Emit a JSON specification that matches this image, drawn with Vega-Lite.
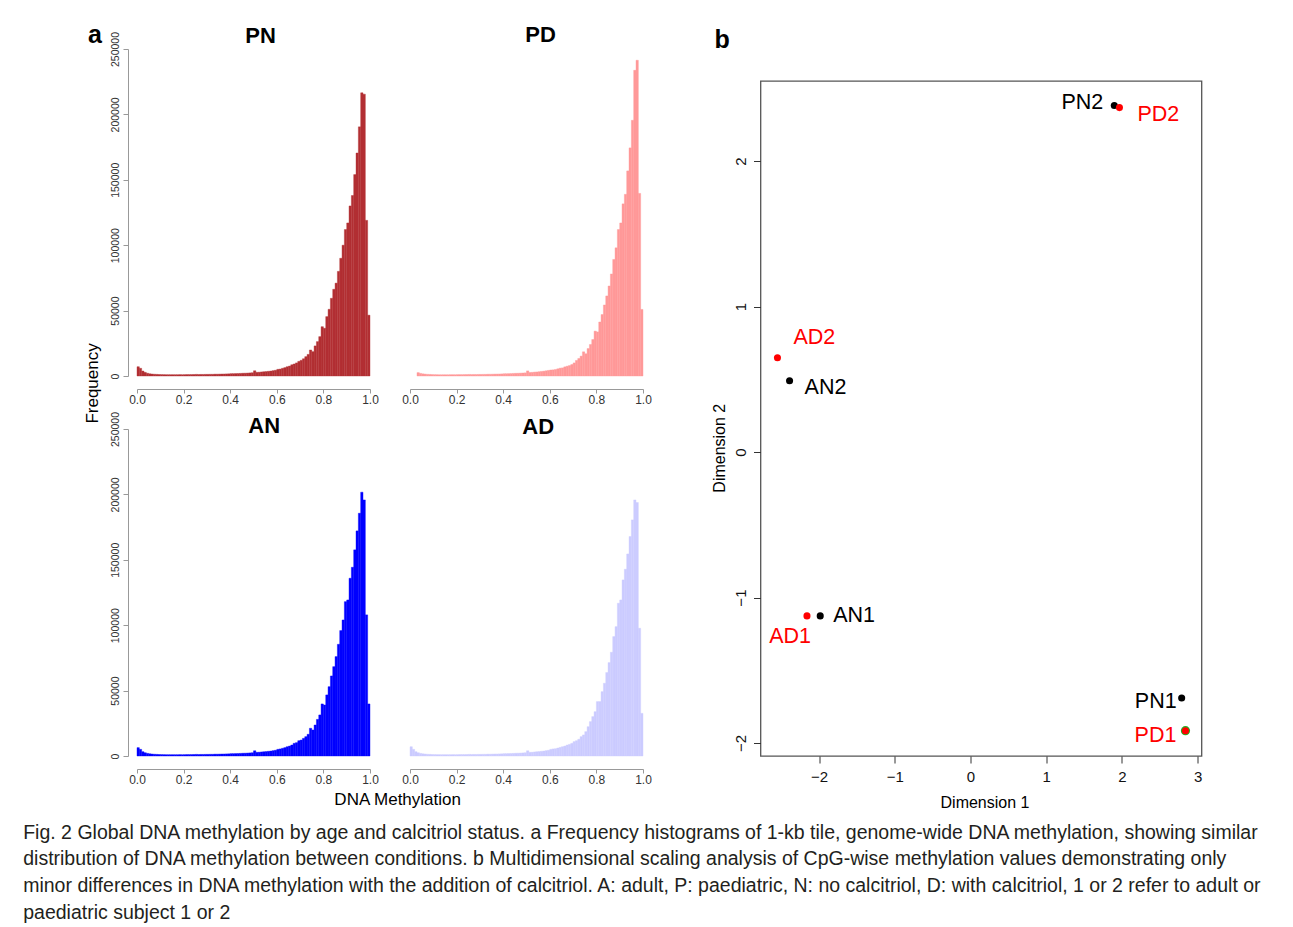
{
  "$schema": "https://vega.github.io/schema/vega-lite/v6.json",
  "background": "white",
  "padding": {"left": 23, "top": 23, "right": 5, "bottom": 5},
  "config": {
    "font": "Liberation Sans",
    "view": {"stroke": null},
    "axis": {"grid": false},
    "title": {"color": "#000000"}
  },
  "datasets": {
    "PN": [
      {"lo":0.00,"hi":0.01,"n":7100},{"lo":0.01,"hi":0.02,"n":5900},{"lo":0.02,"hi":0.03,"n":3800},{"lo":0.03,"hi":0.04,"n":2800},{"lo":0.04,"hi":0.05,"n":2100},
      {"lo":0.05,"hi":0.06,"n":1700},{"lo":0.06,"hi":0.07,"n":1500},{"lo":0.07,"hi":0.08,"n":1350},{"lo":0.08,"hi":0.09,"n":1250},{"lo":0.09,"hi":0.10,"n":1150},
      {"lo":0.10,"hi":0.11,"n":1100},{"lo":0.11,"hi":0.12,"n":1050},{"lo":0.12,"hi":0.13,"n":1000},{"lo":0.13,"hi":0.14,"n":1000},{"lo":0.14,"hi":0.15,"n":1000},
      {"lo":0.15,"hi":0.16,"n":1000},{"lo":0.16,"hi":0.17,"n":1000},{"lo":0.17,"hi":0.18,"n":1000},{"lo":0.18,"hi":0.19,"n":1050},{"lo":0.19,"hi":0.20,"n":1050},
      {"lo":0.20,"hi":0.21,"n":1050},{"lo":0.21,"hi":0.22,"n":1100},{"lo":0.22,"hi":0.23,"n":1100},{"lo":0.23,"hi":0.24,"n":1100},{"lo":0.24,"hi":0.25,"n":1150},
      {"lo":0.25,"hi":0.26,"n":1250},{"lo":0.26,"hi":0.27,"n":1150},{"lo":0.27,"hi":0.28,"n":1200},{"lo":0.28,"hi":0.29,"n":1200},{"lo":0.29,"hi":0.30,"n":1250},
      {"lo":0.30,"hi":0.31,"n":1250},{"lo":0.31,"hi":0.32,"n":1300},{"lo":0.32,"hi":0.33,"n":1300},{"lo":0.33,"hi":0.34,"n":1400},{"lo":0.34,"hi":0.35,"n":1400},
      {"lo":0.35,"hi":0.36,"n":1450},{"lo":0.36,"hi":0.37,"n":1500},{"lo":0.37,"hi":0.38,"n":1550},{"lo":0.38,"hi":0.39,"n":1600},{"lo":0.39,"hi":0.40,"n":1650},
      {"lo":0.40,"hi":0.41,"n":1800},{"lo":0.41,"hi":0.42,"n":1800},{"lo":0.42,"hi":0.43,"n":1850},{"lo":0.43,"hi":0.44,"n":1900},{"lo":0.44,"hi":0.45,"n":2000},
      {"lo":0.45,"hi":0.46,"n":2100},{"lo":0.46,"hi":0.47,"n":2150},{"lo":0.47,"hi":0.48,"n":2250},{"lo":0.48,"hi":0.49,"n":2350},{"lo":0.49,"hi":0.50,"n":2500},
      {"lo":0.50,"hi":0.51,"n":4000},{"lo":0.51,"hi":0.52,"n":2800},{"lo":0.52,"hi":0.53,"n":2900},{"lo":0.53,"hi":0.54,"n":3100},{"lo":0.54,"hi":0.55,"n":3250},
      {"lo":0.55,"hi":0.56,"n":3400},{"lo":0.56,"hi":0.57,"n":3600},{"lo":0.57,"hi":0.58,"n":3800},{"lo":0.58,"hi":0.59,"n":4100},{"lo":0.59,"hi":0.60,"n":4400},
      {"lo":0.60,"hi":0.61,"n":5100},{"lo":0.61,"hi":0.62,"n":5300},{"lo":0.62,"hi":0.63,"n":5900},{"lo":0.63,"hi":0.64,"n":6400},{"lo":0.64,"hi":0.65,"n":7100},
      {"lo":0.65,"hi":0.66,"n":7600},{"lo":0.66,"hi":0.67,"n":8600},{"lo":0.67,"hi":0.68,"n":9200},{"lo":0.68,"hi":0.69,"n":10000},{"lo":0.69,"hi":0.70,"n":11200},
      {"lo":0.70,"hi":0.71,"n":12000},{"lo":0.71,"hi":0.72,"n":13200},{"lo":0.72,"hi":0.73,"n":14800},{"lo":0.73,"hi":0.74,"n":16500},{"lo":0.74,"hi":0.75,"n":19900},
      {"lo":0.75,"hi":0.76,"n":18600},{"lo":0.76,"hi":0.77,"n":23000},{"lo":0.77,"hi":0.78,"n":26300},{"lo":0.78,"hi":0.79,"n":30100},{"lo":0.79,"hi":0.80,"n":37700},
      {"lo":0.80,"hi":0.81,"n":36500},{"lo":0.81,"hi":0.82,"n":45400},{"lo":0.82,"hi":0.83,"n":51000},{"lo":0.83,"hi":0.84,"n":59400},{"lo":0.84,"hi":0.85,"n":66300},
      {"lo":0.85,"hi":0.86,"n":71000},{"lo":0.86,"hi":0.87,"n":80000},{"lo":0.87,"hi":0.88,"n":90000},{"lo":0.88,"hi":0.89,"n":100000},{"lo":0.89,"hi":0.90,"n":112000},
      {"lo":0.90,"hi":0.91,"n":117000},{"lo":0.91,"hi":0.92,"n":130000},{"lo":0.92,"hi":0.93,"n":138000},{"lo":0.93,"hi":0.94,"n":154000},{"lo":0.94,"hi":0.95,"n":170500},
      {"lo":0.95,"hi":0.96,"n":190500},{"lo":0.96,"hi":0.97,"n":216500},{"lo":0.97,"hi":0.98,"n":215500},{"lo":0.98,"hi":0.99,"n":119000},{"lo":0.99,"hi":1.00,"n":46500}
    ],
    "PD": [
      {"lo":0.03,"hi":0.04,"n":2600},{"lo":0.04,"hi":0.05,"n":2000},
      {"lo":0.05,"hi":0.06,"n":1650},{"lo":0.06,"hi":0.07,"n":1450},{"lo":0.07,"hi":0.08,"n":1300},{"lo":0.08,"hi":0.09,"n":1200},{"lo":0.09,"hi":0.10,"n":1100},
      {"lo":0.10,"hi":0.11,"n":1050},{"lo":0.11,"hi":0.12,"n":1000},{"lo":0.12,"hi":0.13,"n":950},{"lo":0.13,"hi":0.14,"n":950},{"lo":0.14,"hi":0.15,"n":950},
      {"lo":0.15,"hi":0.16,"n":950},{"lo":0.16,"hi":0.17,"n":950},{"lo":0.17,"hi":0.18,"n":1000},{"lo":0.18,"hi":0.19,"n":1000},{"lo":0.19,"hi":0.20,"n":1000},
      {"lo":0.20,"hi":0.21,"n":1050},{"lo":0.21,"hi":0.22,"n":1050},{"lo":0.22,"hi":0.23,"n":1050},{"lo":0.23,"hi":0.24,"n":1100},{"lo":0.24,"hi":0.25,"n":1100},
      {"lo":0.25,"hi":0.26,"n":1200},{"lo":0.26,"hi":0.27,"n":1100},{"lo":0.27,"hi":0.28,"n":1150},{"lo":0.28,"hi":0.29,"n":1150},{"lo":0.29,"hi":0.30,"n":1200},
      {"lo":0.30,"hi":0.31,"n":1200},{"lo":0.31,"hi":0.32,"n":1250},{"lo":0.32,"hi":0.33,"n":1250},{"lo":0.33,"hi":0.34,"n":1350},{"lo":0.34,"hi":0.35,"n":1350},
      {"lo":0.35,"hi":0.36,"n":1400},{"lo":0.36,"hi":0.37,"n":1450},{"lo":0.37,"hi":0.38,"n":1500},{"lo":0.38,"hi":0.39,"n":1550},{"lo":0.39,"hi":0.40,"n":1600},
      {"lo":0.40,"hi":0.41,"n":1750},{"lo":0.41,"hi":0.42,"n":1750},{"lo":0.42,"hi":0.43,"n":1800},{"lo":0.43,"hi":0.44,"n":1850},{"lo":0.44,"hi":0.45,"n":1950},
      {"lo":0.45,"hi":0.46,"n":2050},{"lo":0.46,"hi":0.47,"n":2100},{"lo":0.47,"hi":0.48,"n":2200},{"lo":0.48,"hi":0.49,"n":2300},{"lo":0.49,"hi":0.50,"n":2400},
      {"lo":0.50,"hi":0.51,"n":3900},{"lo":0.51,"hi":0.52,"n":2700},{"lo":0.52,"hi":0.53,"n":2800},{"lo":0.53,"hi":0.54,"n":3000},{"lo":0.54,"hi":0.55,"n":3150},
      {"lo":0.55,"hi":0.56,"n":3300},{"lo":0.56,"hi":0.57,"n":3500},{"lo":0.57,"hi":0.58,"n":3700},{"lo":0.58,"hi":0.59,"n":4000},{"lo":0.59,"hi":0.60,"n":4300},
      {"lo":0.60,"hi":0.61,"n":4600},{"lo":0.61,"hi":0.62,"n":4700},{"lo":0.62,"hi":0.63,"n":5000},{"lo":0.63,"hi":0.64,"n":5500},{"lo":0.64,"hi":0.65,"n":6000},
      {"lo":0.65,"hi":0.66,"n":6200},{"lo":0.66,"hi":0.67,"n":7000},{"lo":0.67,"hi":0.68,"n":7500},{"lo":0.68,"hi":0.69,"n":8000},{"lo":0.69,"hi":0.70,"n":8800},
      {"lo":0.70,"hi":0.71,"n":10000},{"lo":0.71,"hi":0.72,"n":11900},{"lo":0.72,"hi":0.73,"n":13400},{"lo":0.73,"hi":0.74,"n":15200},{"lo":0.74,"hi":0.75,"n":18500},
      {"lo":0.75,"hi":0.76,"n":17000},{"lo":0.76,"hi":0.77,"n":21000},{"lo":0.77,"hi":0.78,"n":24100},{"lo":0.78,"hi":0.79,"n":27900},{"lo":0.79,"hi":0.80,"n":34300},
      {"lo":0.80,"hi":0.81,"n":33700},{"lo":0.81,"hi":0.82,"n":41300},{"lo":0.82,"hi":0.83,"n":47000},{"lo":0.83,"hi":0.84,"n":54300},{"lo":0.84,"hi":0.85,"n":61200},
      {"lo":0.85,"hi":0.86,"n":68800},{"lo":0.86,"hi":0.87,"n":78000},{"lo":0.87,"hi":0.88,"n":89100},{"lo":0.88,"hi":0.89,"n":98000},{"lo":0.89,"hi":0.90,"n":112000},
      {"lo":0.90,"hi":0.91,"n":117000},{"lo":0.91,"hi":0.92,"n":131600},{"lo":0.92,"hi":0.93,"n":138900},{"lo":0.93,"hi":0.94,"n":156800},{"lo":0.94,"hi":0.95,"n":174400},
      {"lo":0.95,"hi":0.96,"n":195500},{"lo":0.96,"hi":0.97,"n":233700},{"lo":0.97,"hi":0.98,"n":241400},{"lo":0.98,"hi":0.99,"n":139600},{"lo":0.99,"hi":1.00,"n":50900}
    ],
    "AN": [
      {"lo":0.00,"hi":0.01,"n":6400},{"lo":0.01,"hi":0.02,"n":5100},{"lo":0.02,"hi":0.03,"n":3300},{"lo":0.03,"hi":0.04,"n":2500},{"lo":0.04,"hi":0.05,"n":2000},
      {"lo":0.05,"hi":0.06,"n":1700},{"lo":0.06,"hi":0.07,"n":1500},{"lo":0.07,"hi":0.08,"n":1350},{"lo":0.08,"hi":0.09,"n":1250},{"lo":0.09,"hi":0.10,"n":1150},
      {"lo":0.10,"hi":0.11,"n":1100},{"lo":0.11,"hi":0.12,"n":1050},{"lo":0.12,"hi":0.13,"n":1000},{"lo":0.13,"hi":0.14,"n":1000},{"lo":0.14,"hi":0.15,"n":1000},
      {"lo":0.15,"hi":0.16,"n":1000},{"lo":0.16,"hi":0.17,"n":1000},{"lo":0.17,"hi":0.18,"n":1000},{"lo":0.18,"hi":0.19,"n":1050},{"lo":0.19,"hi":0.20,"n":1050},
      {"lo":0.20,"hi":0.21,"n":1050},{"lo":0.21,"hi":0.22,"n":1100},{"lo":0.22,"hi":0.23,"n":1100},{"lo":0.23,"hi":0.24,"n":1100},{"lo":0.24,"hi":0.25,"n":1150},
      {"lo":0.25,"hi":0.26,"n":1250},{"lo":0.26,"hi":0.27,"n":1150},{"lo":0.27,"hi":0.28,"n":1200},{"lo":0.28,"hi":0.29,"n":1200},{"lo":0.29,"hi":0.30,"n":1250},
      {"lo":0.30,"hi":0.31,"n":1250},{"lo":0.31,"hi":0.32,"n":1300},{"lo":0.32,"hi":0.33,"n":1300},{"lo":0.33,"hi":0.34,"n":1400},{"lo":0.34,"hi":0.35,"n":1400},
      {"lo":0.35,"hi":0.36,"n":1450},{"lo":0.36,"hi":0.37,"n":1500},{"lo":0.37,"hi":0.38,"n":1550},{"lo":0.38,"hi":0.39,"n":1600},{"lo":0.39,"hi":0.40,"n":1650},
      {"lo":0.40,"hi":0.41,"n":1800},{"lo":0.41,"hi":0.42,"n":1800},{"lo":0.42,"hi":0.43,"n":1850},{"lo":0.43,"hi":0.44,"n":1900},{"lo":0.44,"hi":0.45,"n":2000},
      {"lo":0.45,"hi":0.46,"n":2100},{"lo":0.46,"hi":0.47,"n":2150},{"lo":0.47,"hi":0.48,"n":2250},{"lo":0.48,"hi":0.49,"n":2350},{"lo":0.49,"hi":0.50,"n":2500},
      {"lo":0.50,"hi":0.51,"n":4000},{"lo":0.51,"hi":0.52,"n":2800},{"lo":0.52,"hi":0.53,"n":2900},{"lo":0.53,"hi":0.54,"n":3100},{"lo":0.54,"hi":0.55,"n":3250},
      {"lo":0.55,"hi":0.56,"n":3400},{"lo":0.56,"hi":0.57,"n":3600},{"lo":0.57,"hi":0.58,"n":3800},{"lo":0.58,"hi":0.59,"n":4100},{"lo":0.59,"hi":0.60,"n":4400},
      {"lo":0.60,"hi":0.61,"n":5100},{"lo":0.61,"hi":0.62,"n":5400},{"lo":0.62,"hi":0.63,"n":5900},{"lo":0.63,"hi":0.64,"n":6400},{"lo":0.64,"hi":0.65,"n":7100},
      {"lo":0.65,"hi":0.66,"n":7600},{"lo":0.66,"hi":0.67,"n":8400},{"lo":0.67,"hi":0.68,"n":9700},{"lo":0.68,"hi":0.69,"n":10200},{"lo":0.69,"hi":0.70,"n":11700},
      {"lo":0.70,"hi":0.71,"n":12200},{"lo":0.71,"hi":0.72,"n":13500},{"lo":0.72,"hi":0.73,"n":14800},{"lo":0.73,"hi":0.74,"n":16600},{"lo":0.74,"hi":0.75,"n":21200},
      {"lo":0.75,"hi":0.76,"n":19900},{"lo":0.76,"hi":0.77,"n":23700},{"lo":0.77,"hi":0.78,"n":28000},{"lo":0.78,"hi":0.79,"n":31400},{"lo":0.79,"hi":0.80,"n":39800},
      {"lo":0.80,"hi":0.81,"n":39000},{"lo":0.81,"hi":0.82,"n":46700},{"lo":0.82,"hi":0.83,"n":53000},{"lo":0.83,"hi":0.84,"n":61200},{"lo":0.84,"hi":0.85,"n":68300},
      {"lo":0.85,"hi":0.86,"n":76000},{"lo":0.86,"hi":0.87,"n":85400},{"lo":0.87,"hi":0.88,"n":95900},{"lo":0.88,"hi":0.89,"n":104000},{"lo":0.89,"hi":0.90,"n":118000},
      {"lo":0.90,"hi":0.91,"n":119300},{"lo":0.91,"hi":0.92,"n":135900},{"lo":0.92,"hi":0.93,"n":144300},{"lo":0.93,"hi":0.94,"n":157600},{"lo":0.94,"hi":0.95,"n":172100},
      {"lo":0.95,"hi":0.96,"n":185600},{"lo":0.96,"hi":0.97,"n":201700},{"lo":0.97,"hi":0.98,"n":195800},{"lo":0.98,"hi":0.99,"n":107900},{"lo":0.99,"hi":1.00,"n":39800}
    ],
    "AD": [
      {"lo":0.00,"hi":0.01,"n":7100},{"lo":0.01,"hi":0.02,"n":5100},{"lo":0.02,"hi":0.03,"n":3300},{"lo":0.03,"hi":0.04,"n":2500},{"lo":0.04,"hi":0.05,"n":2000},
      {"lo":0.05,"hi":0.06,"n":1700},{"lo":0.06,"hi":0.07,"n":1500},{"lo":0.07,"hi":0.08,"n":1350},{"lo":0.08,"hi":0.09,"n":1250},{"lo":0.09,"hi":0.10,"n":1150},
      {"lo":0.10,"hi":0.11,"n":1100},{"lo":0.11,"hi":0.12,"n":1050},{"lo":0.12,"hi":0.13,"n":1000},{"lo":0.13,"hi":0.14,"n":1000},{"lo":0.14,"hi":0.15,"n":1000},
      {"lo":0.15,"hi":0.16,"n":1000},{"lo":0.16,"hi":0.17,"n":1000},{"lo":0.17,"hi":0.18,"n":1000},{"lo":0.18,"hi":0.19,"n":1050},{"lo":0.19,"hi":0.20,"n":1050},
      {"lo":0.20,"hi":0.21,"n":1050},{"lo":0.21,"hi":0.22,"n":1100},{"lo":0.22,"hi":0.23,"n":1100},{"lo":0.23,"hi":0.24,"n":1100},{"lo":0.24,"hi":0.25,"n":1150},
      {"lo":0.25,"hi":0.26,"n":1250},{"lo":0.26,"hi":0.27,"n":1150},{"lo":0.27,"hi":0.28,"n":1200},{"lo":0.28,"hi":0.29,"n":1200},{"lo":0.29,"hi":0.30,"n":1250},
      {"lo":0.30,"hi":0.31,"n":1250},{"lo":0.31,"hi":0.32,"n":1300},{"lo":0.32,"hi":0.33,"n":1300},{"lo":0.33,"hi":0.34,"n":1400},{"lo":0.34,"hi":0.35,"n":1400},
      {"lo":0.35,"hi":0.36,"n":1450},{"lo":0.36,"hi":0.37,"n":1500},{"lo":0.37,"hi":0.38,"n":1550},{"lo":0.38,"hi":0.39,"n":1600},{"lo":0.39,"hi":0.40,"n":1650},
      {"lo":0.40,"hi":0.41,"n":1800},{"lo":0.41,"hi":0.42,"n":1800},{"lo":0.42,"hi":0.43,"n":1850},{"lo":0.43,"hi":0.44,"n":1900},{"lo":0.44,"hi":0.45,"n":2000},
      {"lo":0.45,"hi":0.46,"n":2100},{"lo":0.46,"hi":0.47,"n":2150},{"lo":0.47,"hi":0.48,"n":2250},{"lo":0.48,"hi":0.49,"n":2350},{"lo":0.49,"hi":0.50,"n":2500},
      {"lo":0.50,"hi":0.51,"n":4000},{"lo":0.51,"hi":0.52,"n":2800},{"lo":0.52,"hi":0.53,"n":2900},{"lo":0.53,"hi":0.54,"n":3100},{"lo":0.54,"hi":0.55,"n":3250},
      {"lo":0.55,"hi":0.56,"n":3400},{"lo":0.56,"hi":0.57,"n":3600},{"lo":0.57,"hi":0.58,"n":3800},{"lo":0.58,"hi":0.59,"n":4100},{"lo":0.59,"hi":0.60,"n":4400},
      {"lo":0.60,"hi":0.61,"n":5100},{"lo":0.61,"hi":0.62,"n":5400},{"lo":0.62,"hi":0.63,"n":5600},{"lo":0.63,"hi":0.64,"n":6100},{"lo":0.64,"hi":0.65,"n":6600},
      {"lo":0.65,"hi":0.66,"n":7100},{"lo":0.66,"hi":0.67,"n":7600},{"lo":0.67,"hi":0.68,"n":8400},{"lo":0.68,"hi":0.69,"n":8900},{"lo":0.69,"hi":0.70,"n":9700},
      {"lo":0.70,"hi":0.71,"n":11000},{"lo":0.71,"hi":0.72,"n":11700},{"lo":0.72,"hi":0.73,"n":12800},{"lo":0.73,"hi":0.74,"n":14800},{"lo":0.74,"hi":0.75,"n":16100},
      {"lo":0.75,"hi":0.76,"n":18600},{"lo":0.76,"hi":0.77,"n":22400},{"lo":0.77,"hi":0.78,"n":26300},{"lo":0.78,"hi":0.79,"n":30100},{"lo":0.79,"hi":0.80,"n":33900},
      {"lo":0.80,"hi":0.81,"n":41600},{"lo":0.81,"hi":0.82,"n":41600},{"lo":0.82,"hi":0.83,"n":49200},{"lo":0.83,"hi":0.84,"n":55600},{"lo":0.84,"hi":0.85,"n":63800},
      {"lo":0.85,"hi":0.86,"n":71400},{"lo":0.86,"hi":0.87,"n":79300},{"lo":0.87,"hi":0.88,"n":91300},{"lo":0.88,"hi":0.89,"n":98900},{"lo":0.89,"hi":0.90,"n":116800},
      {"lo":0.90,"hi":0.91,"n":119300},{"lo":0.91,"hi":0.92,"n":134600},{"lo":0.92,"hi":0.93,"n":142800},{"lo":0.93,"hi":0.94,"n":154500},{"lo":0.94,"hi":0.95,"n":167800},
      {"lo":0.95,"hi":0.96,"n":180500},{"lo":0.96,"hi":0.97,"n":195800},{"lo":0.97,"hi":0.98,"n":193800},{"lo":0.98,"hi":0.99,"n":97700},{"lo":0.99,"hi":1.00,"n":32600}
    ],
    "mds": [
      {"sample":"PN2","trt":"N","d1":1.90,"d2":2.382},
      {"sample":"PD2","trt":"D","d1":1.968,"d2":2.368},
      {"sample":"AD2","trt":"D","d1":-2.55,"d2":0.648},
      {"sample":"AN2","trt":"N","d1":-2.39,"d2":0.49},
      {"sample":"AD1","trt":"D","d1":-2.16,"d2":-1.126},
      {"sample":"AN1","trt":"N","d1":-1.985,"d2":-1.126},
      {"sample":"PN1","trt":"N","d1":2.79,"d2":-1.69},
      {"sample":"PD1","trt":"D","d1":2.84,"d2":-1.915}
    ]
  },
  "title": {
    "text": [
      "Fig. 2  Global DNA methylation by age and calcitriol status. a Frequency histograms of 1-kb tile, genome-wide DNA methylation, showing similar",
      "distribution of DNA methylation between conditions. b Multidimensional scaling analysis of CpG-wise methylation values demonstrating only",
      "minor differences in DNA methylation with the addition of calcitriol. A: adult, P: paediatric, N: no calcitriol, D: with calcitriol, 1 or 2 refer to adult or",
      "paediatric subject 1 or 2"
    ],
    "orient": "bottom",
    "anchor": "start",
    "frame": "bounds",
    "font": "Liberation Sans",
    "fontSize": 19.5,
    "fontWeight": "normal",
    "lineHeight": 26.7,
    "offset": 13,
    "dx": -60.8,
    "color": "#231F20"
  },
  "spacing": 58.5,
  "hconcat": [
    {
      "title": {"text": "a", "fontSize": 25, "fontWeight": "bold", "anchor": "start", "frame": "bounds", "baseline": "alphabetic", "offset": -44, "dx": 4},
      "vconcat": [
        {
          "title": {"text": "Frequency", "orient": "left", "fontSize": 17, "fontWeight": "normal", "anchor": "middle", "frame": "bounds", "offset": 8, "dx": 32.7},
          "spacing": 6,
          "vconcat": [
            {
              "spacing": 22,
              "hconcat": [
                {
                  "width": 233, "height": 327,
                  "title": {"text": "PN", "fontSize": 22, "fontWeight": "bold", "frame": "group", "anchor": "middle", "baseline": "alphabetic", "offset": -33.4, "dx": 7},
                  "data": {"name": "PN"},
                  "mark": {"type": "bar", "color": "#B22F33", "stroke": "#B22F33", "strokeWidth": 0.4},
                  "encoding": {
                    "x": {"field": "lo", "type": "quantitative", "scale": {"domain": [0, 1], "nice": false},
                          "axis": {"values": [0, 0.2, 0.4, 0.6, 0.8, 1], "format": ".1f", "offset": 13, "tickSize": 4, "labelFontSize": 12, "labelPadding": 1, "domainColor": "#999999", "tickColor": "#999999", "labelColor": "#333333", "title": null, "labelFlush": false}},
                    "x2": {"field": "hi"},
                    "y": {"field": "n", "type": "quantitative", "scale": {"domain": [0, 250000], "nice": false},
                          "axis": {"values": [0, 50000, 100000, 150000, 200000, 250000], "format": "d", "offset": 9, "tickSize": 5, "labelAngle": -90, "labelAlign": "center", "labelBaseline": "bottom", "labelPadding": 3, "labelFontSize": 10.5, "domainColor": "#999999", "tickColor": "#999999", "labelColor": "#333333", "title": null, "labelFlush": false}},
                    "y2": {"datum": 0}
                  }
                },
                {
                  "width": 233, "height": 327,
                  "title": {"text": "PD", "fontSize": 22, "fontWeight": "bold", "frame": "group", "anchor": "middle", "baseline": "alphabetic", "offset": -15.3, "dx": 14},
                  "data": {"name": "PD"},
                  "mark": {"type": "bar", "color": "#FF9999", "stroke": "#FF9999", "strokeWidth": 0.4},
                  "encoding": {
                    "x": {"field": "lo", "type": "quantitative", "scale": {"domain": [0, 1], "nice": false},
                          "axis": {"values": [0, 0.2, 0.4, 0.6, 0.8, 1], "format": ".1f", "offset": 13, "tickSize": 4, "labelFontSize": 12, "labelPadding": 1, "domainColor": "#999999", "tickColor": "#999999", "labelColor": "#333333", "title": null, "labelFlush": false}},
                    "x2": {"field": "hi"},
                    "y": {"field": "n", "type": "quantitative", "scale": {"domain": [0, 250000], "nice": false}, "axis": null},
                    "y2": {"datum": 0}
                  }
                }
              ]
            },
            {
              "spacing": 22,
              "title": {"text": "DNA Methylation", "orient": "bottom", "fontSize": 17, "fontWeight": "normal", "anchor": "middle", "frame": "bounds", "offset": 7, "dx": 17},
              "hconcat": [
                {
                  "width": 233, "height": 327,
                  "title": {"text": "AN", "fontSize": 22, "fontWeight": "bold", "frame": "group", "anchor": "middle", "baseline": "alphabetic", "offset": -43.3, "dx": 10.7},
                  "data": {"name": "AN"},
                  "mark": {"type": "bar", "color": "#0000FF", "stroke": "#0000FF", "strokeWidth": 0.4},
                  "encoding": {
                    "x": {"field": "lo", "type": "quantitative", "scale": {"domain": [0, 1], "nice": false},
                          "axis": {"values": [0, 0.2, 0.4, 0.6, 0.8, 1], "format": ".1f", "offset": 13, "tickSize": 4, "labelFontSize": 12, "labelPadding": 1, "domainColor": "#999999", "tickColor": "#999999", "labelColor": "#333333", "title": null, "labelFlush": false}},
                    "x2": {"field": "hi"},
                    "y": {"field": "n", "type": "quantitative", "scale": {"domain": [0, 250000], "nice": false},
                          "axis": {"values": [0, 50000, 100000, 150000, 200000, 250000], "format": "d", "offset": 9, "tickSize": 5, "labelAngle": -90, "labelAlign": "center", "labelBaseline": "bottom", "labelPadding": 3, "labelFontSize": 10.5, "domainColor": "#999999", "tickColor": "#999999", "labelColor": "#333333", "title": null, "labelFlush": false}},
                    "y2": {"datum": 0}
                  }
                },
                {
                  "width": 233, "height": 327,
                  "title": {"text": "AD", "fontSize": 22, "fontWeight": "bold", "frame": "group", "anchor": "middle", "baseline": "alphabetic", "offset": -26.6, "dx": 11.7},
                  "data": {"name": "AD"},
                  "mark": {"type": "bar", "color": "#CCCCFF", "stroke": "#CCCCFF", "strokeWidth": 0.4},
                  "encoding": {
                    "x": {"field": "lo", "type": "quantitative", "scale": {"domain": [0, 1], "nice": false},
                          "axis": {"values": [0, 0.2, 0.4, 0.6, 0.8, 1], "format": ".1f", "offset": 13, "tickSize": 4, "labelFontSize": 12, "labelPadding": 1, "domainColor": "#999999", "tickColor": "#999999", "labelColor": "#333333", "title": null, "labelFlush": false}},
                    "x2": {"field": "hi"},
                    "y": {"field": "n", "type": "quantitative", "scale": {"domain": [0, 250000], "nice": false}, "axis": null},
                    "y2": {"datum": 0}
                  }
                }
              ]
            }
          ]
        }
      ]
    },
    {
      "spacing": 27,
      "vconcat": [
        {
          "width": 441, "height": 1,
          "title": {"text": "b", "fontSize": 25, "fontWeight": "bold", "anchor": "start", "frame": "group", "baseline": "alphabetic", "offset": -23.5, "dx": -46},
          "data": {"values": []},
          "mark": "point",
          "encoding": {}
        },
        {
          "width": 441, "height": 675,
          "view": {"stroke": "#555555", "strokeWidth": 1.3},
          "data": {"name": "mds"},
          "encoding": {
            "x": {"field": "d1", "type": "quantitative", "scale": {"domain": [-2.774, 3.052], "nice": false, "zero": false},
                  "axis": {"values": [-2, -1, 0, 1, 2, 3], "domain": false, "tickSize": 7, "tickColor": "#333333", "labelFontSize": 15, "labelColor": "#111111", "labelPadding": 6, "labelFlush": false,
                           "title": "Dimension 1", "titleFontSize": 16, "titleFontWeight": "normal", "titleX": 224, "titleY": 46, "titleAlign": "center", "titleBaseline": "middle"}},
            "y": {"field": "d2", "type": "quantitative", "scale": {"domain": [-2.089, 2.551], "nice": false, "zero": false},
                  "axis": {"values": [-2, -1, 0, 1, 2], "domain": false, "tickSize": 7, "tickColor": "#333333", "labelFontSize": 15, "labelColor": "#111111", "labelAngle": -90, "labelAlign": "center", "labelBaseline": "bottom", "labelPadding": 5, "labelFlush": false,
                           "title": "Dimension 2", "titleFontSize": 16, "titleFontWeight": "normal", "titleX": -41, "titleY": 366.7, "titleAngle": -90, "titleAlign": "center", "titleBaseline": "middle"}}
          },
          "layer": [
            {"transform": [{"filter": "datum.sample === 'PD1'"}], "mark": {"type": "circle", "size": 85, "color": "#22B022", "opacity": 1}},
            {"mark": {"type": "circle", "size": 50, "opacity": 1},
             "encoding": {"color": {"field": "trt", "type": "nominal", "scale": {"domain": ["N", "D"], "range": ["#000000", "#FF0000"]}, "legend": null}}},
            {"transform": [{"filter": "datum.sample === 'PN2'"}], "mark": {"type": "text", "fontSize": 21.5, "align": "right", "baseline": "middle", "dx": -11, "dy": -3},
             "encoding": {"text": {"field": "sample"}, "color": {"field": "trt", "type": "nominal", "scale": {"domain": ["N", "D"], "range": ["#000000", "#FF0000"]}, "legend": null}}},
            {"transform": [{"filter": "datum.sample === 'PD2'"}], "mark": {"type": "text", "fontSize": 21.5, "align": "left", "baseline": "middle", "dx": 18, "dy": 7},
             "encoding": {"text": {"field": "sample"}, "color": {"field": "trt", "type": "nominal", "scale": {"domain": ["N", "D"], "range": ["#000000", "#FF0000"]}, "legend": null}}},
            {"transform": [{"filter": "datum.sample === 'AD2'"}], "mark": {"type": "text", "fontSize": 21.5, "align": "left", "baseline": "middle", "dx": 16, "dy": -20},
             "encoding": {"text": {"field": "sample"}, "color": {"field": "trt", "type": "nominal", "scale": {"domain": ["N", "D"], "range": ["#000000", "#FF0000"]}, "legend": null}}},
            {"transform": [{"filter": "datum.sample === 'AN2'"}], "mark": {"type": "text", "fontSize": 21.5, "align": "left", "baseline": "middle", "dx": 15, "dy": 7},
             "encoding": {"text": {"field": "sample"}, "color": {"field": "trt", "type": "nominal", "scale": {"domain": ["N", "D"], "range": ["#000000", "#FF0000"]}, "legend": null}}},
            {"transform": [{"filter": "datum.sample === 'AN1'"}], "mark": {"type": "text", "fontSize": 21.5, "align": "left", "baseline": "middle", "dx": 13, "dy": 0},
             "encoding": {"text": {"field": "sample"}, "color": {"field": "trt", "type": "nominal", "scale": {"domain": ["N", "D"], "range": ["#000000", "#FF0000"]}, "legend": null}}},
            {"transform": [{"filter": "datum.sample === 'AD1'"}], "mark": {"type": "text", "fontSize": 21.5, "align": "right", "baseline": "middle", "dx": 4, "dy": 21},
             "encoding": {"text": {"field": "sample"}, "color": {"field": "trt", "type": "nominal", "scale": {"domain": ["N", "D"], "range": ["#000000", "#FF0000"]}, "legend": null}}},
            {"transform": [{"filter": "datum.sample === 'PN1'"}], "mark": {"type": "text", "fontSize": 21.5, "align": "right", "baseline": "middle", "dx": -5, "dy": 4},
             "encoding": {"text": {"field": "sample"}, "color": {"field": "trt", "type": "nominal", "scale": {"domain": ["N", "D"], "range": ["#000000", "#FF0000"]}, "legend": null}}},
            {"transform": [{"filter": "datum.sample === 'PD1'"}], "mark": {"type": "text", "fontSize": 21.5, "align": "right", "baseline": "middle", "dx": -9, "dy": 5},
             "encoding": {"text": {"field": "sample"}, "color": {"field": "trt", "type": "nominal", "scale": {"domain": ["N", "D"], "range": ["#000000", "#FF0000"]}, "legend": null}}}
          ]
        }
      ]
    }
  ]
}
